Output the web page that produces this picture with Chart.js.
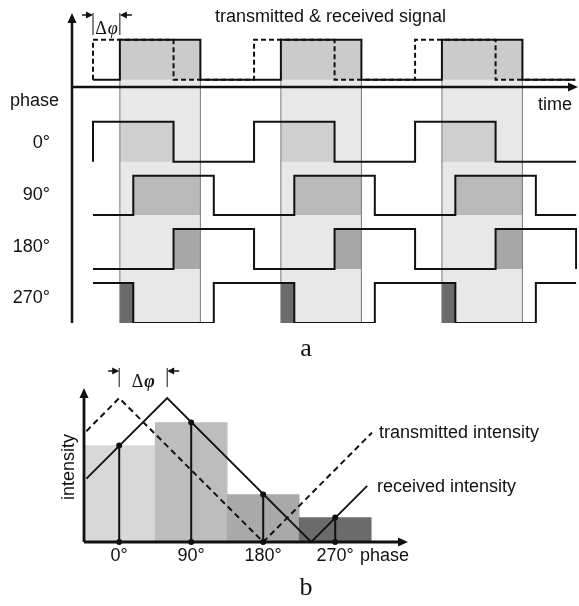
<!DOCTYPE html>
<html>
<head>
<meta charset="utf-8">
<script src="https://cdn.jsdelivr.net/npm/chart.js@4.4.1/dist/chart.umd.min.js"></script>
<style>
  body { margin: 0; background: #fff; }
  #wrap { position: relative; width: 579px; height: 606px; }
  canvas { position: absolute; left: 0; }
</style>
</head>
<body>
<div id="wrap">
  <canvas id="signals" width="579" height="365" style="top:0"></canvas>
  <canvas id="intensity" width="579" height="241" style="top:365px"></canvas>
</div>
<script>
// ---- a: square waves, time in degrees of the modulation period ----
// step points [time, level], level 0 = low, 1 = high
const transmitted = [[0,0],[0,1],[180,0],[360,1],[540,0],[720,1],[900,0],[1078,0]];
const received    = [[0,0],[60,1],[240,0],[420,1],[600,0],[780,1],[960,0],[1078,0]];
const ref0   = [[0,0],[0,1],[180,0],[360,1],[540,0],[720,1],[900,0],[1080,0]];
const ref90  = [[0,0],[90,1],[270,0],[450,1],[630,0],[810,1],[990,0],[1080,0]];
const ref180 = [[0,0],[180,1],[360,0],[540,1],[720,0],[900,1],[1080,1],[1080,0]];
const ref270 = [[0,1],[90,0],[270,1],[450,0],[630,1],[810,0],[990,1],[1080,1]];

const rowNames = ['0°', '90°', '180°', '270°'];
const rowLow   = [4.03, 2.7, 1.35, 0];
const rowHigh  = [5.03, 3.68, 2.35, 1.0];
const signalLow = 6.08, signalHigh = 7.08, timeAxisLevel = 5.9;

// windows where the received pulse is on, and where each reference overlaps it
const pulseWindows = [[60,240],[420,600],[780,960]];
const overlap0   = [[60,180],[420,540],[780,900]];
const overlap90  = [[90,240],[450,600],[810,960]];
const overlap180 = [[180,240],[540,600],[900,960]];
const overlap270 = [[60,90],[420,450],[780,810]];
const overlapColors = ['#cfcfcf', '#b9b9b9', '#a7a7a7', '#6b6b6b'];

// ---- b: intensities over phase ----
const phaseTicks = [0, 90, 180, 270];
const phaseLabels = ['0°', '90°', '180°', '270°'];
const binIntensity = [0.67, 0.83, 0.33, 0.17];
const binColors = ['#d8d8d8', '#bdbdbd', '#a9a9a9', '#6b6b6b'];
const transmittedIntensity = [[-41,0.77],[0,1],[180,0],[316,0.76]];
const receivedIntensity    = [[-41,0.44],[60,1],[240,0],[310,0.39]];

const INK = '#111';
const SANS = '"Liberation Sans", Arial, sans-serif';
const SERIF = '"Liberation Serif", "DejaVu Serif", serif';

function stepData(points, lo, hi) {
  return points.map(p => ({x: p[0], y: lo + p[1] * (hi - lo)}));
}
function rectTop(windows, top) {
  const out = [];
  windows.forEach(w => {
    out.push({x: w[0], y: top}, {x: w[1], y: top}, {x: w[1], y: null});
  });
  return out;
}
function verticals(xs, y0, y1) {
  const out = [];
  xs.forEach(x => { out.push({x: x, y: y0}, {x: x, y: y1}, {x: x, y: null}); });
  return out;
}
function arrowHead(ctx, x, y, dir, len, half) {
  ctx.beginPath();
  if (dir === 'up') { ctx.moveTo(x, y); ctx.lineTo(x - half, y + len); ctx.lineTo(x + half, y + len); }
  if (dir === 'right') { ctx.moveTo(x, y); ctx.lineTo(x - len, y - half); ctx.lineTo(x - len, y + half); }
  if (dir === 'left') { ctx.moveTo(x, y); ctx.lineTo(x + len, y - half); ctx.lineTo(x + len, y + half); }
  ctx.closePath();
  ctx.fill();
}
function seg(ctx, x0, y0, x1, y1) {
  ctx.beginPath(); ctx.moveTo(x0, y0); ctx.lineTo(x1, y1); ctx.stroke();
}
function drawDeltaPhi(ctx, cx, cy, size, bold) {
  const f1 = size + 'px ' + SERIF;
  const f2 = 'italic ' + (bold ? 'bold ' : '') + size + 'px ' + SERIF;
  ctx.font = f1; const w1 = ctx.measureText('Δ').width;
  ctx.font = f2; const w2 = ctx.measureText('φ').width;
  const x = cx - (w1 + w2 + 1) / 2;
  ctx.textAlign = 'left'; ctx.textBaseline = 'middle';
  ctx.font = f1; ctx.fillText('Δ', x, cy);
  ctx.font = f2; ctx.fillText('φ', x + w1 + 1, cy);
}
function deltaMarker(ctx, x0, x1, yTop, yBot, yArrow) {
  ctx.lineWidth = 1;
  seg(ctx, x0, yTop, x0, yBot);
  seg(ctx, x1, yTop, x1, yBot);
  ctx.lineWidth = 1.5;
  seg(ctx, x0 - 11, yArrow, x0 - 5, yArrow);
  seg(ctx, x1 + 12, yArrow, x1 + 5, yArrow);
  arrowHead(ctx, x0, yArrow, 'right', 7, 3.5);
  arrowHead(ctx, x1, yArrow, 'left', 7, 3.5);
}

// ---------- chart a ----------
const signalDecor = {
  id: 'signalDecor',
  afterDraw(chart) {
    const {ctx, chartArea: a, scales: {x, y}} = chart;
    ctx.save();
    ctx.strokeStyle = INK; ctx.fillStyle = INK;
    // axes
    ctx.lineWidth = 2.5;
    seg(ctx, a.left, a.top + 8, a.left, a.bottom);
    arrowHead(ctx, a.left, a.top, 'up', 10, 4.5);
    const ty = y.getPixelForValue(timeAxisLevel);
    seg(ctx, a.left, ty, a.right - 8, ty);
    arrowHead(ctx, a.right + 1, ty, 'right', 10, 4.5);
    // delta phi marker
    deltaMarker(ctx, x.getPixelForValue(0), x.getPixelForValue(60),
      y.getPixelForValue(7.75), y.getPixelForValue(7.2), y.getPixelForValue(7.7));
    drawDeltaPhi(ctx, (x.getPixelForValue(0) + x.getPixelForValue(60)) / 2, 29, 18, false);
    // texts
    ctx.font = '18px ' + SANS;
    ctx.textBaseline = 'middle';
    ctx.textAlign = 'left';
    ctx.fillText('transmitted & received signal', 215, 17);
    ctx.fillText('time', 538, 105);
    ctx.fillText('phase', 10, 101);
    ctx.textAlign = 'right';
    const labelY = [143, 195, 247, 298];
    rowNames.forEach((n, i) => ctx.fillText(n, 50, labelY[i]));
    ctx.textAlign = 'center';
    ctx.font = '26px ' + SERIF;
    ctx.fillText('a', 306, 349);
    ctx.restore();
  }
};

const rowWaves = [ref0, ref90, ref180, ref270];
const rowOverlaps = [overlap0, overlap90, overlap180, overlap270];

const sigDatasets = [
  {data: stepData(transmitted, signalLow, signalHigh), borderDash: [5, 3], order: 0},
  {data: stepData(received, signalLow, signalHigh), order: 0}
];
rowWaves.forEach((w, i) => {
  sigDatasets.push({data: stepData(w, rowLow[i], rowHigh[i]), order: 0});
});
sigDatasets.forEach(d => Object.assign(d, {
  type: 'line', stepped: 'before', borderColor: INK, borderWidth: 2,
  pointRadius: 0, fill: false, spanGaps: false
}));
// band edges
sigDatasets.push({
  type: 'line', data: verticals(pulseWindows.flat(), 0, signalLow),
  borderColor: '#777', borderWidth: 1, pointRadius: 0, fill: false, spanGaps: false, order: 1
});
// overlap fills
rowOverlaps.forEach((ov, i) => {
  sigDatasets.push({
    type: 'line', data: rectTop(ov, rowHigh[i]), fill: {value: rowLow[i]},
    backgroundColor: overlapColors[i], borderWidth: 0, pointRadius: 0, spanGaps: false, order: 2
  });
});
sigDatasets.push({
  type: 'line', data: rectTop(pulseWindows, signalHigh), fill: {value: signalLow},
  backgroundColor: '#cbcbcb', borderWidth: 0, pointRadius: 0, spanGaps: false, order: 2
});
// light band
sigDatasets.push({
  type: 'line', data: rectTop(pulseWindows, signalLow), fill: {value: 0},
  backgroundColor: '#e8e8e8', borderWidth: 0, pointRadius: 0, spanGaps: false, order: 3
});

new Chart(document.getElementById('signals'), {
  type: 'line',
  data: {datasets: sigDatasets},
  options: {
    responsive: false,
    animation: false,
    layout: {padding: {left: 72, right: 2, top: 13, bottom: 42}},
    scales: {
      x: {type: 'linear', min: -47, max: 1082, display: false},
      y: {type: 'linear', min: 0, max: 7.75, display: false}
    },
    plugins: {legend: {display: false}, tooltip: {enabled: false}}
  },
  plugins: [signalDecor]
});

// ---------- chart b ----------
const intensityDecor = {
  id: 'intensityDecor',
  afterDraw(chart) {
    const {ctx, chartArea: a, scales: {x, y}} = chart;
    ctx.save();
    ctx.strokeStyle = INK; ctx.fillStyle = INK;
    ctx.lineWidth = 2.8;
    seg(ctx, a.left, a.top + 8, a.left, a.bottom);
    arrowHead(ctx, a.left, a.top, 'up', 10, 4.5);
    seg(ctx, a.left, a.bottom, a.right - 8, a.bottom);
    arrowHead(ctx, a.right, a.bottom, 'right', 10, 4.5);
    // delta phi marker
    const x0 = x.getPixelForValue(0), x1 = x.getPixelForValue(60);
    deltaMarker(ctx, x0, x1, 3, 22, 6);
    drawDeltaPhi(ctx, (x0 + x1) / 2, 17, 18, true);
    // tick labels
    ctx.font = '18px ' + SANS;
    ctx.textBaseline = 'middle';
    ctx.textAlign = 'center';
    phaseTicks.forEach((t, i) => ctx.fillText(phaseLabels[i], x.getPixelForValue(t), 191));
    ctx.textAlign = 'left';
    ctx.fillText('phase', 360, 191);
    ctx.fillText('transmitted intensity', 379, 68);
    ctx.fillText('received intensity', 377, 122);
    ctx.save();
    ctx.translate(69, 102);
    ctx.rotate(-Math.PI / 2);
    ctx.textAlign = 'center';
    ctx.fillText('intensity', 0, 0);
    ctx.restore();
    ctx.textAlign = 'center';
    ctx.font = '26px ' + SERIF;
    ctx.fillText('b', 306, 223);
    ctx.restore();
  }
};

const dropPoints = [];
phaseTicks.forEach((t, i) => {
  dropPoints.push({x: t, y: 0}, {x: t, y: binIntensity[i]}, {x: t, y: null});
});

new Chart(document.getElementById('intensity'), {
  type: 'bar',
  data: {
    datasets: [
      {
        type: 'line', data: transmittedIntensity.map(p => ({x: p[0], y: p[1]})),
        borderColor: INK, borderWidth: 2, borderDash: [6, 4], pointRadius: 0, fill: false, order: 0, clip: false
      },
      {
        type: 'line', data: receivedIntensity.map(p => ({x: p[0], y: p[1]})),
        borderColor: INK, borderWidth: 1.8, pointRadius: 0, fill: false, order: 0, clip: false
      },
      {
        type: 'line', data: dropPoints, borderColor: INK, borderWidth: 2,
        pointRadius: 3, pointBackgroundColor: INK, pointBorderWidth: 0,
        fill: false, spanGaps: false, order: 1, clip: false
      },
      {
        type: 'bar', data: phaseTicks.map((t, i) => ({x: t, y: binIntensity[i]})),
        backgroundColor: binColors, borderWidth: 0,
        barPercentage: 1, categoryPercentage: 1, order: 2
      }
    ]
  },
  options: {
    responsive: false,
    animation: false,
    layout: {padding: {left: 84, right: 171, top: 23, bottom: 64}},
    scales: {
      x: {
        type: 'linear', min: -44, max: 361, offset: false, display: false,
        afterBuildTicks: s => { s.ticks = phaseTicks.map(v => ({value: v})); }
      },
      y: {type: 'linear', min: 0, max: 1.07, display: false}
    },
    plugins: {legend: {display: false}, tooltip: {enabled: false}}
  },
  plugins: [intensityDecor]
});
</script>
</body>
</html>
